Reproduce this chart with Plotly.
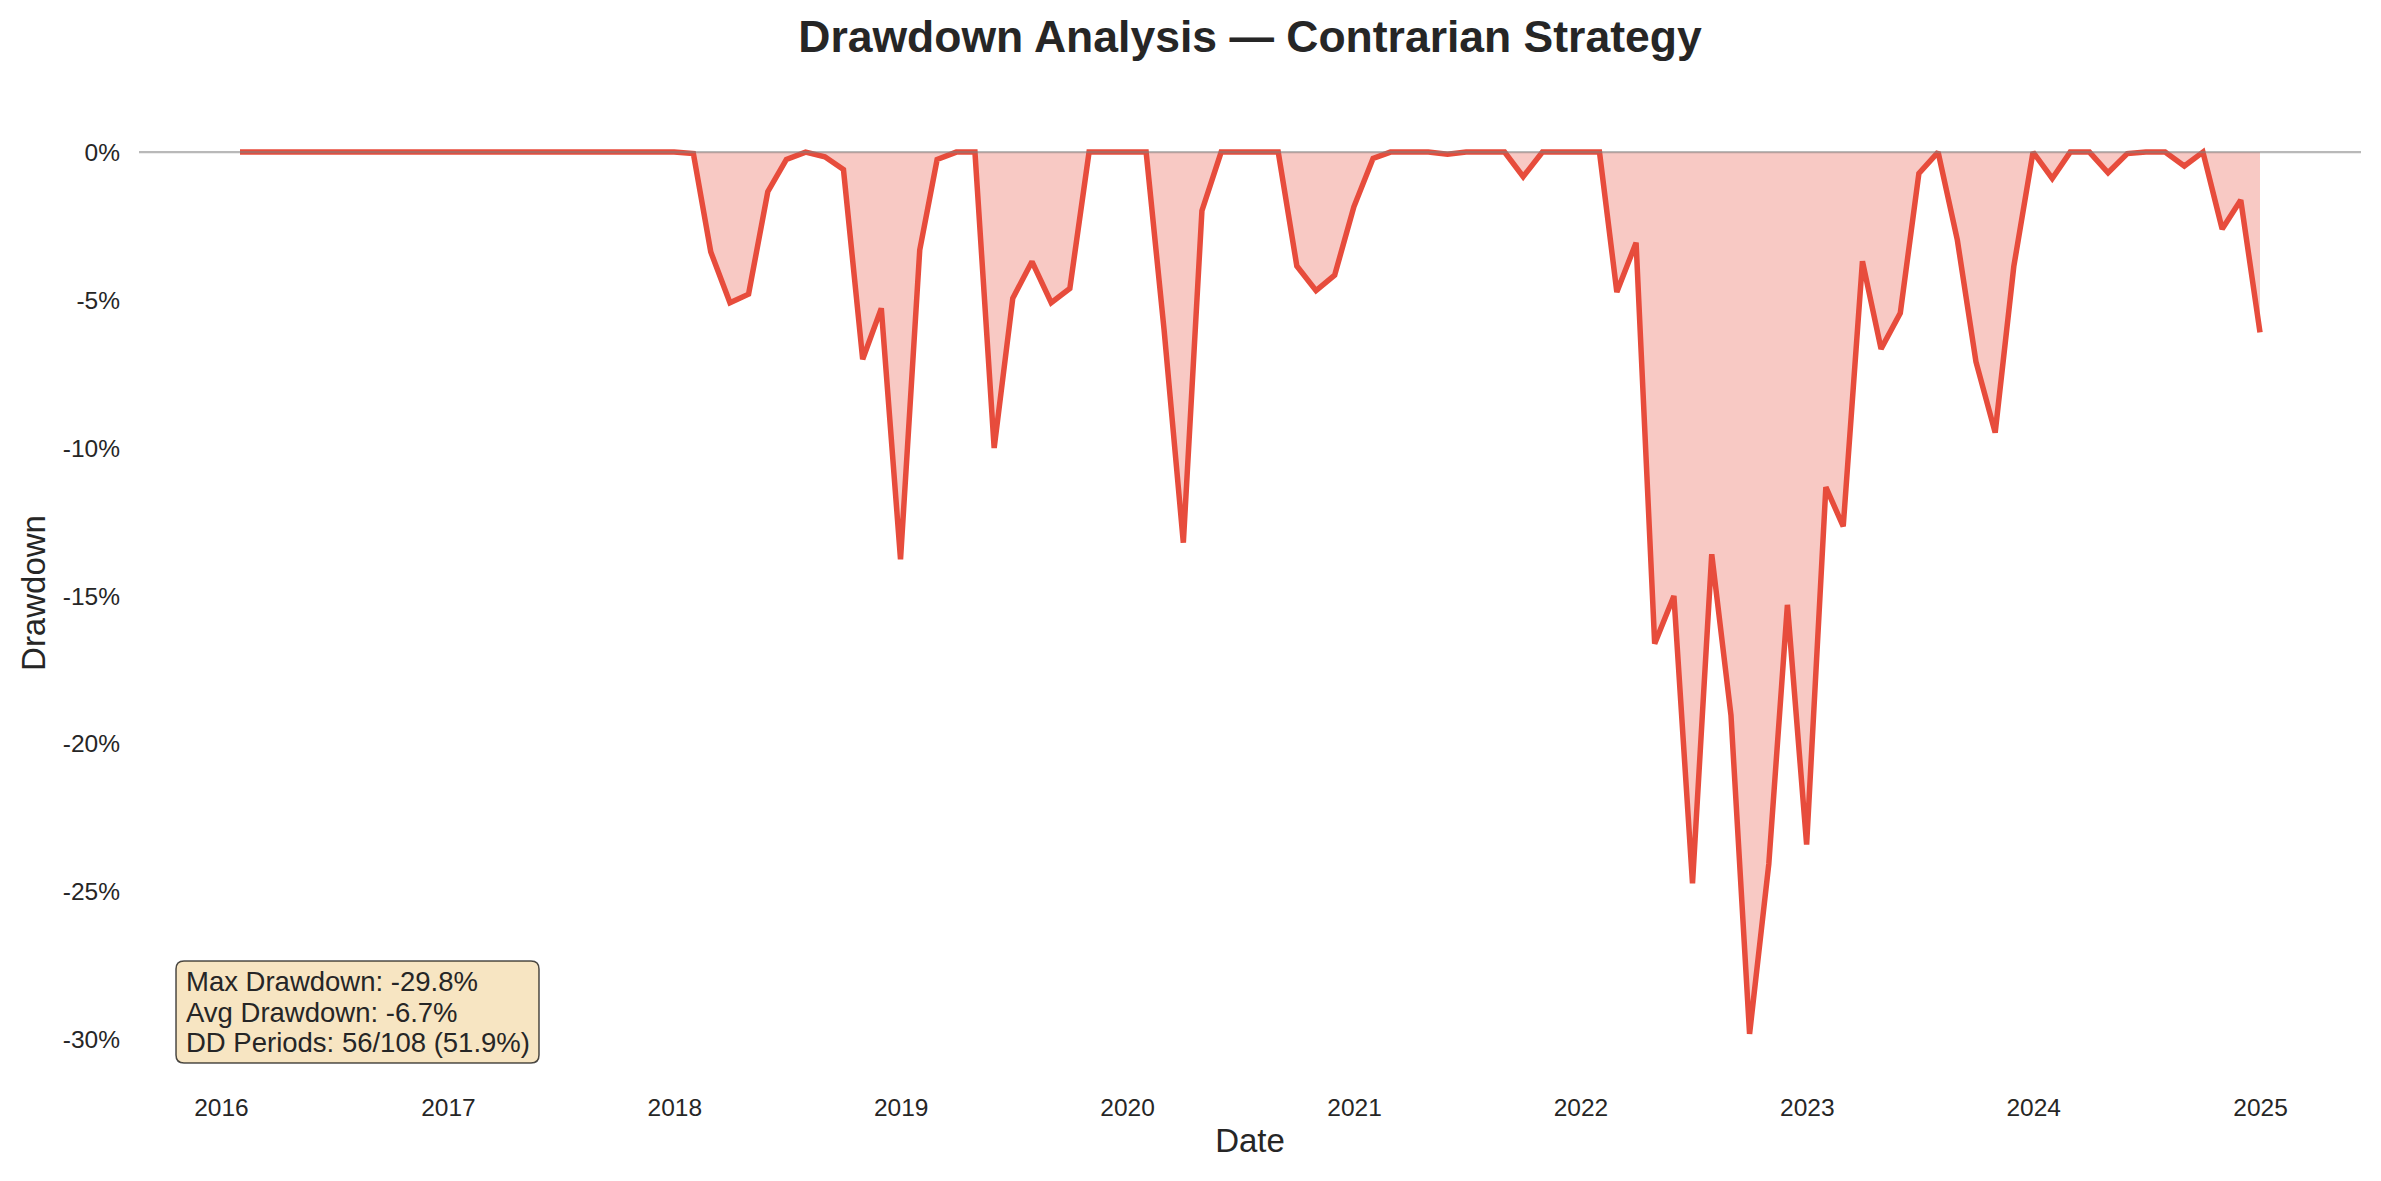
import pandas as pd
import plotly.graph_objects as go

# ---- data ----
dates = pd.date_range("2016-01-31", periods=108, freq="ME")
dd_2016 = [0.0] * 12
dd_2017 = [0.0] * 12
dd_2018 = [-0.05, -3.37, -5.09, -4.80, -1.34, -0.25, 0.0, -0.16, -0.59, -7.00, -5.28, -13.76]
dd_2019 = [-3.31, -0.25, 0.0, 0.0, -10.00, -4.94, -3.70, -5.09, -4.61, 0.0, 0.0, 0.0]
dd_2020 = [0.0, -6.01, -13.20, -1.98, 0.0, 0.0, 0.0, 0.0, -3.85, -4.68, -4.16, -1.85]
dd_2021 = [-0.21, 0.0, 0.0, 0.0, -0.07, 0.0, 0.0, 0.0, -0.83, 0.0, 0.0, 0.0]
dd_2022 = [0.0, -4.73, -3.06, -16.61, -15.00, -24.71, -13.59, -19.03, -29.80, -24.06, -15.30, -23.40]
dd_2023 = [-11.32, -12.65, -3.69, -6.65, -5.44, -0.72, 0.0, -2.97, -7.08, -9.48, -3.87, 0.0]
dd_2024 = [-0.89, 0.0, 0.0, -0.70, -0.05, 0.0, 0.0, -0.47, 0.0, -2.60, -1.62, -6.09]
drawdown = dd_2016 + dd_2017 + dd_2018 + dd_2019 + dd_2020 + dd_2021 + dd_2022 + dd_2023 + dd_2024

y_tickvals = [0, -5, -10, -15, -20, -25, -30]
y_ticktext = ["0%", "-5%", "-10%", "-15%", "-20%", "-25%", "-30%"]
x_tick_years = [str(y) for y in range(2016, 2026)]

stats_lines = ["Max Drawdown: -29.8%", "Avg Drawdown: -6.7%", "DD Periods: 56/108 (51.9%)"]

RED = "#e74c3c"
TXT = "#262626"
FONT = "Liberation Sans, Arial, sans-serif"

# axis ranges with 5% margins (matplotlib-like)
span = dates[-1] - dates[0]
x_range = [dates[0] - 0.05 * span, dates[-1] + 0.05 * span]
ymin, ymax = min(drawdown), max(drawdown)
yspan = ymax - ymin
y_range = [ymin - 0.05 * yspan, ymax + 0.05 * yspan]

W, H = 2365, 1165
ML, MR, MT, MB = 131, 12, 100, 95

fig = go.Figure()
fig.add_trace(go.Scatter(
    x=dates, y=drawdown, mode="lines",
    line=dict(color=RED, width=5.5),
    fill="tozeroy", fillcolor="rgba(231,76,60,0.3)",
    hoverinfo="x+y", showlegend=False,
))

fig.add_shape(type="line", xref="paper", x0=0, x1=1, yref="y", y0=0, y1=0,
              line=dict(color="rgba(128,128,128,0.55)", width=2.2), layer="above")

# rounded stats box (paper coordinates of the plot area)
bx0, bx1, by0, by1 = 0.01665, 0.18002, 0.01546, 0.12062
rx, ry = 0.0036, 0.0083
box_path = (f"M {bx0+rx},{by0} L {bx1-rx},{by0} Q {bx1},{by0} {bx1},{by0+ry} "
            f"L {bx1},{by1-ry} Q {bx1},{by1} {bx1-rx},{by1} "
            f"L {bx0+rx},{by1} Q {bx0},{by1} {bx0},{by1-ry} "
            f"L {bx0},{by0+ry} Q {bx0},{by0} {bx0+rx},{by0} Z")
fig.add_shape(type="path", xref="paper", yref="paper", path=box_path,
              fillcolor="rgba(245,222,179,0.8)",
              line=dict(color="rgba(0,0,0,0.7)", width=1.5), layer="above")

line_y = [0.0995, 0.0680, 0.0366]
for txt, yy in zip(stats_lines, line_y):
    fig.add_annotation(
        xref="paper", yref="paper", x=0.0201, y=yy,
        xanchor="left", yanchor="middle", align="left",
        text=txt, showarrow=False,
        font=dict(family=FONT, size=27.5, color=TXT),
    )

fig.update_layout(
    width=W, height=H,
    margin=dict(l=ML, r=MR, t=MT, b=MB),
    paper_bgcolor="white", plot_bgcolor="white",
    font=dict(family=FONT, color=TXT),
    title=dict(text="<b>Drawdown Analysis — Contrarian Strategy</b>",
               x=(ML + (W - ML - MR) / 2) / W, xanchor="center",
               y=1 - 28 / H, yanchor="middle",
               font=dict(family=FONT, size=44.5, color=TXT)),
    xaxis=dict(
        range=x_range, showgrid=False, zeroline=False, showline=False,
        tickvals=[pd.Timestamp(f"{y}-01-01") for y in x_tick_years],
        ticktext=x_tick_years, ticks="", ticklabelstandoff=12,
        tickfont=dict(family=FONT, size=24.5, color=TXT),
        title=dict(text="Date", font=dict(family=FONT, size=33, color=TXT), standoff=9),
    ),
    yaxis=dict(
        range=y_range, showgrid=False, zeroline=False, showline=False,
        tickvals=y_tickvals, ticktext=y_ticktext, ticks="", ticklabelstandoff=18,
        tickfont=dict(family=FONT, size=24.5, color=TXT),
        title=dict(text="Drawdown", font=dict(family=FONT, size=33, color=TXT), standoff=7),
    ),
)

fig.write_html("out.html")
